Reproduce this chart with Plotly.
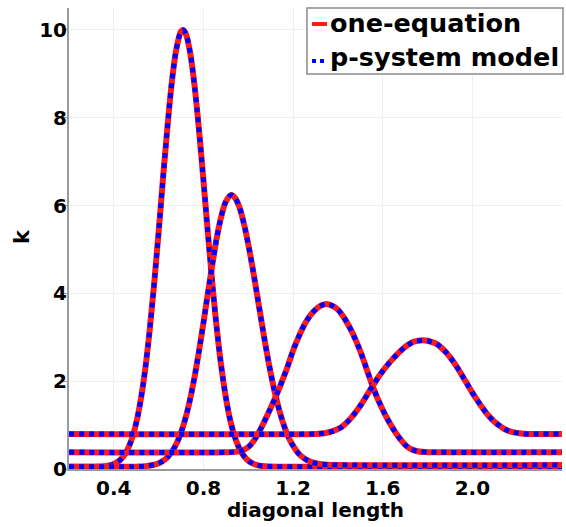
import plotly.graph_objects as go

# ---- data ----
xA = [0.20, 0.34, 0.36, 0.38, 0.40, 0.42, 0.44, 0.46, 0.48, 0.50, 0.52, 0.54, 0.56, 0.58, 0.60, 0.62, 0.64, 0.66, 0.68, 0.70,
      0.708, 0.72, 0.74, 0.76, 0.78, 0.80, 0.82, 0.84, 0.86, 0.88, 0.90, 0.92, 0.94, 0.96, 0.98, 1.00, 1.02, 1.04, 1.06, 1.10, 1.20, 2.40]
kA = [0.05, 0.055, 0.066, 0.083, 0.115, 0.171, 0.27, 0.43, 0.68, 1.05, 1.57, 2.27, 3.16, 4.22, 5.40, 6.65, 7.83, 8.86, 9.59, 9.97,
      10.0, 9.93, 9.50, 8.74, 7.73, 6.57, 5.36, 4.21, 3.18, 2.32, 1.63, 1.10, 0.73, 0.47, 0.30, 0.19, 0.127, 0.09, 0.07, 0.055, 0.05, 0.05]

xB = [0.20, 0.46, 0.50, 0.54, 0.58, 0.60, 0.62, 0.64, 0.66, 0.68, 0.70, 0.72, 0.74, 0.76, 0.78, 0.80, 0.82, 0.84, 0.86, 0.88, 0.90,
      0.924, 0.94, 0.96, 0.98, 1.00, 1.02, 1.04, 1.06, 1.08, 1.10, 1.12, 1.14, 1.16, 1.18, 1.20, 1.22, 1.24, 1.26, 1.28, 1.30, 1.34, 1.40, 2.40]
kB = [0.05, 0.051, 0.054, 0.064, 0.097, 0.13, 0.186, 0.27, 0.40, 0.58, 0.83, 1.16, 1.58, 2.09, 2.68, 3.33, 4.01, 4.67, 5.28, 5.76, 6.09,
      6.24, 6.18, 5.97, 5.60, 5.12, 4.56, 3.95, 3.33, 2.73, 2.19, 1.71, 1.31, 0.98, 0.72, 0.53, 0.38, 0.28, 0.21, 0.166, 0.135, 0.105, 0.093, 0.09]

xC = [0.20, 0.90, 0.94, 0.97, 1.00, 1.02, 1.04, 1.06, 1.08, 1.10, 1.12, 1.14, 1.16, 1.18, 1.20, 1.22, 1.24, 1.26, 1.28, 1.30, 1.32,
      1.348, 1.37, 1.40, 1.42, 1.44, 1.46, 1.48, 1.50, 1.52, 1.54, 1.56, 1.58, 1.60, 1.62, 1.64, 1.66, 1.68, 1.70, 1.72, 1.75, 1.79, 1.85, 2.40]
kC = [0.38, 0.38, 0.39, 0.42, 0.50, 0.61, 0.77, 0.96, 1.17, 1.39, 1.62, 1.86, 2.12, 2.40, 2.70, 2.95, 3.18, 3.37, 3.52, 3.63, 3.71,
      3.76, 3.73, 3.63, 3.50, 3.34, 3.15, 2.93, 2.68, 2.40, 2.10, 1.82, 1.57, 1.35, 1.15, 0.97, 0.81, 0.67, 0.55, 0.47, 0.41, 0.385, 0.38, 0.38]

xD = [0.20, 1.30, 1.34, 1.37, 1.40, 1.42, 1.44, 1.46, 1.48, 1.50, 1.52, 1.54, 1.56, 1.58, 1.60, 1.62, 1.64, 1.66, 1.68, 1.70, 1.72, 1.74,
      1.778, 1.80, 1.82, 1.84, 1.86, 1.88, 1.90, 1.92, 1.94, 1.96, 1.98, 2.00, 2.02, 2.04, 2.06, 2.08, 2.10, 2.12, 2.14, 2.16, 2.18, 2.21, 2.25, 2.40]
kD = [0.80, 0.80, 0.815, 0.85, 0.91, 0.97, 1.06, 1.17, 1.30, 1.44, 1.60, 1.77, 1.93, 2.09, 2.23, 2.36, 2.48, 2.59, 2.69, 2.78, 2.85, 2.90,
      2.93, 2.92, 2.89, 2.85, 2.77, 2.67, 2.55, 2.41, 2.25, 2.08, 1.91, 1.74, 1.58, 1.43, 1.29, 1.17, 1.07, 0.99, 0.92, 0.87, 0.84, 0.815, 0.80, 0.80]

curves = [(xA, kA), (xB, kB), (xC, kC), (xD, kD)]

series_names = ["one-equation", "p-system model"]
xticks = [0.4, 0.8, 1.2, 1.6, 2.0]
yticks = [0, 2, 4, 6, 8, 10]

# ---- layout geometry ----
W, H = 566, 527
L, R, T, B = 69, 4, 8, 58
PW, PH = W - L - R, H - T - B


def px(xp):
    return (xp - L) / PW


def py(yp):
    return (H - B - yp) / PH


FONT = "DejaVu Sans"
RED = "#ff1a1a"
BLUE = "#0000ff"
fig = go.Figure()

for xs, ks in curves:
    fig.add_trace(go.Scatter(x=xs, y=ks, mode="lines", line=dict(color=RED, width=6, shape="spline", smoothing=1),
                             showlegend=False, hoverinfo="skip"))
    fig.add_trace(go.Scatter(x=xs, y=ks, mode="lines", line=dict(color=BLUE, width=5, dash="5px,5px", shape="spline", smoothing=1),
                             showlegend=False, hoverinfo="skip"))

shapes = [
    dict(type="rect", xref="paper", yref="paper", x0=px(307), x1=px(563), y0=py(74), y1=py(8),
         line=dict(color="#8a8a8a", width=1.5), fillcolor="white", layer="above"),
    dict(type="line", xref="paper", yref="paper", x0=px(312), x1=px(327), y0=py(24), y1=py(24),
         line=dict(color=RED, width=4), layer="above"),
    dict(type="line", xref="paper", yref="paper", x0=px(312), x1=px(328), y0=py(61), y1=py(61),
         line=dict(color=BLUE, width=4, dash="4px,4px"), layer="above"),
]

annotations = [
    dict(text=series_names[0], xref="paper", yref="paper", x=px(328), y=py(23), xanchor="left", yanchor="middle",
         showarrow=False, font=dict(family=FONT, size=25.5, color="black", weight="bold")),
    dict(text=series_names[1], xref="paper", yref="paper", x=px(328), y=py(57), xanchor="left", yanchor="middle",
         showarrow=False, font=dict(family=FONT, size=25.5, color="black", weight="bold")),
    dict(text="diagonal length", xref="paper", yref="paper", x=0.5, y=py(510), xanchor="center", yanchor="middle",
         showarrow=False, font=dict(family=FONT, size=20, color="black", weight="bold")),
    dict(text="k", xref="paper", yref="paper", x=px(22), y=py(237), xanchor="center", yanchor="middle",
         textangle=-90, showarrow=False, font=dict(family=FONT, size=21, color="black", weight="bold")),
]

fig.update_layout(
    width=W, height=H,
    margin=dict(l=L, r=R, t=T, b=B, pad=0),
    paper_bgcolor="white", plot_bgcolor="white",
    showlegend=False,
    shapes=shapes, annotations=annotations,
    font=dict(family=FONT, size=20, color="black"),
)
tickfont = dict(family=FONT, size=20, color="black", weight="bold")
fig.update_xaxes(range=[0.2, 2.4], tickvals=xticks, tickformat=".1f", showgrid=True, gridcolor="#f0f0f0", gridwidth=1,
                 zeroline=False, showline=True, linecolor="#9a9a9a", linewidth=2, ticks="", ticklabelstandoff=0,
                 tickfont=tickfont)
fig.update_yaxes(range=[0, 10.5], tickvals=yticks, showgrid=True, gridcolor="#f0f0f0", gridwidth=1,
                 zeroline=False, showline=True, linecolor="#9a9a9a", linewidth=2, ticks="outside", ticklen=5,
                 tickcolor="#9a9a9a", tickwidth=1, ticklabelstandoff=-9, tickfont=tickfont)

fig.write_html("out.html")
